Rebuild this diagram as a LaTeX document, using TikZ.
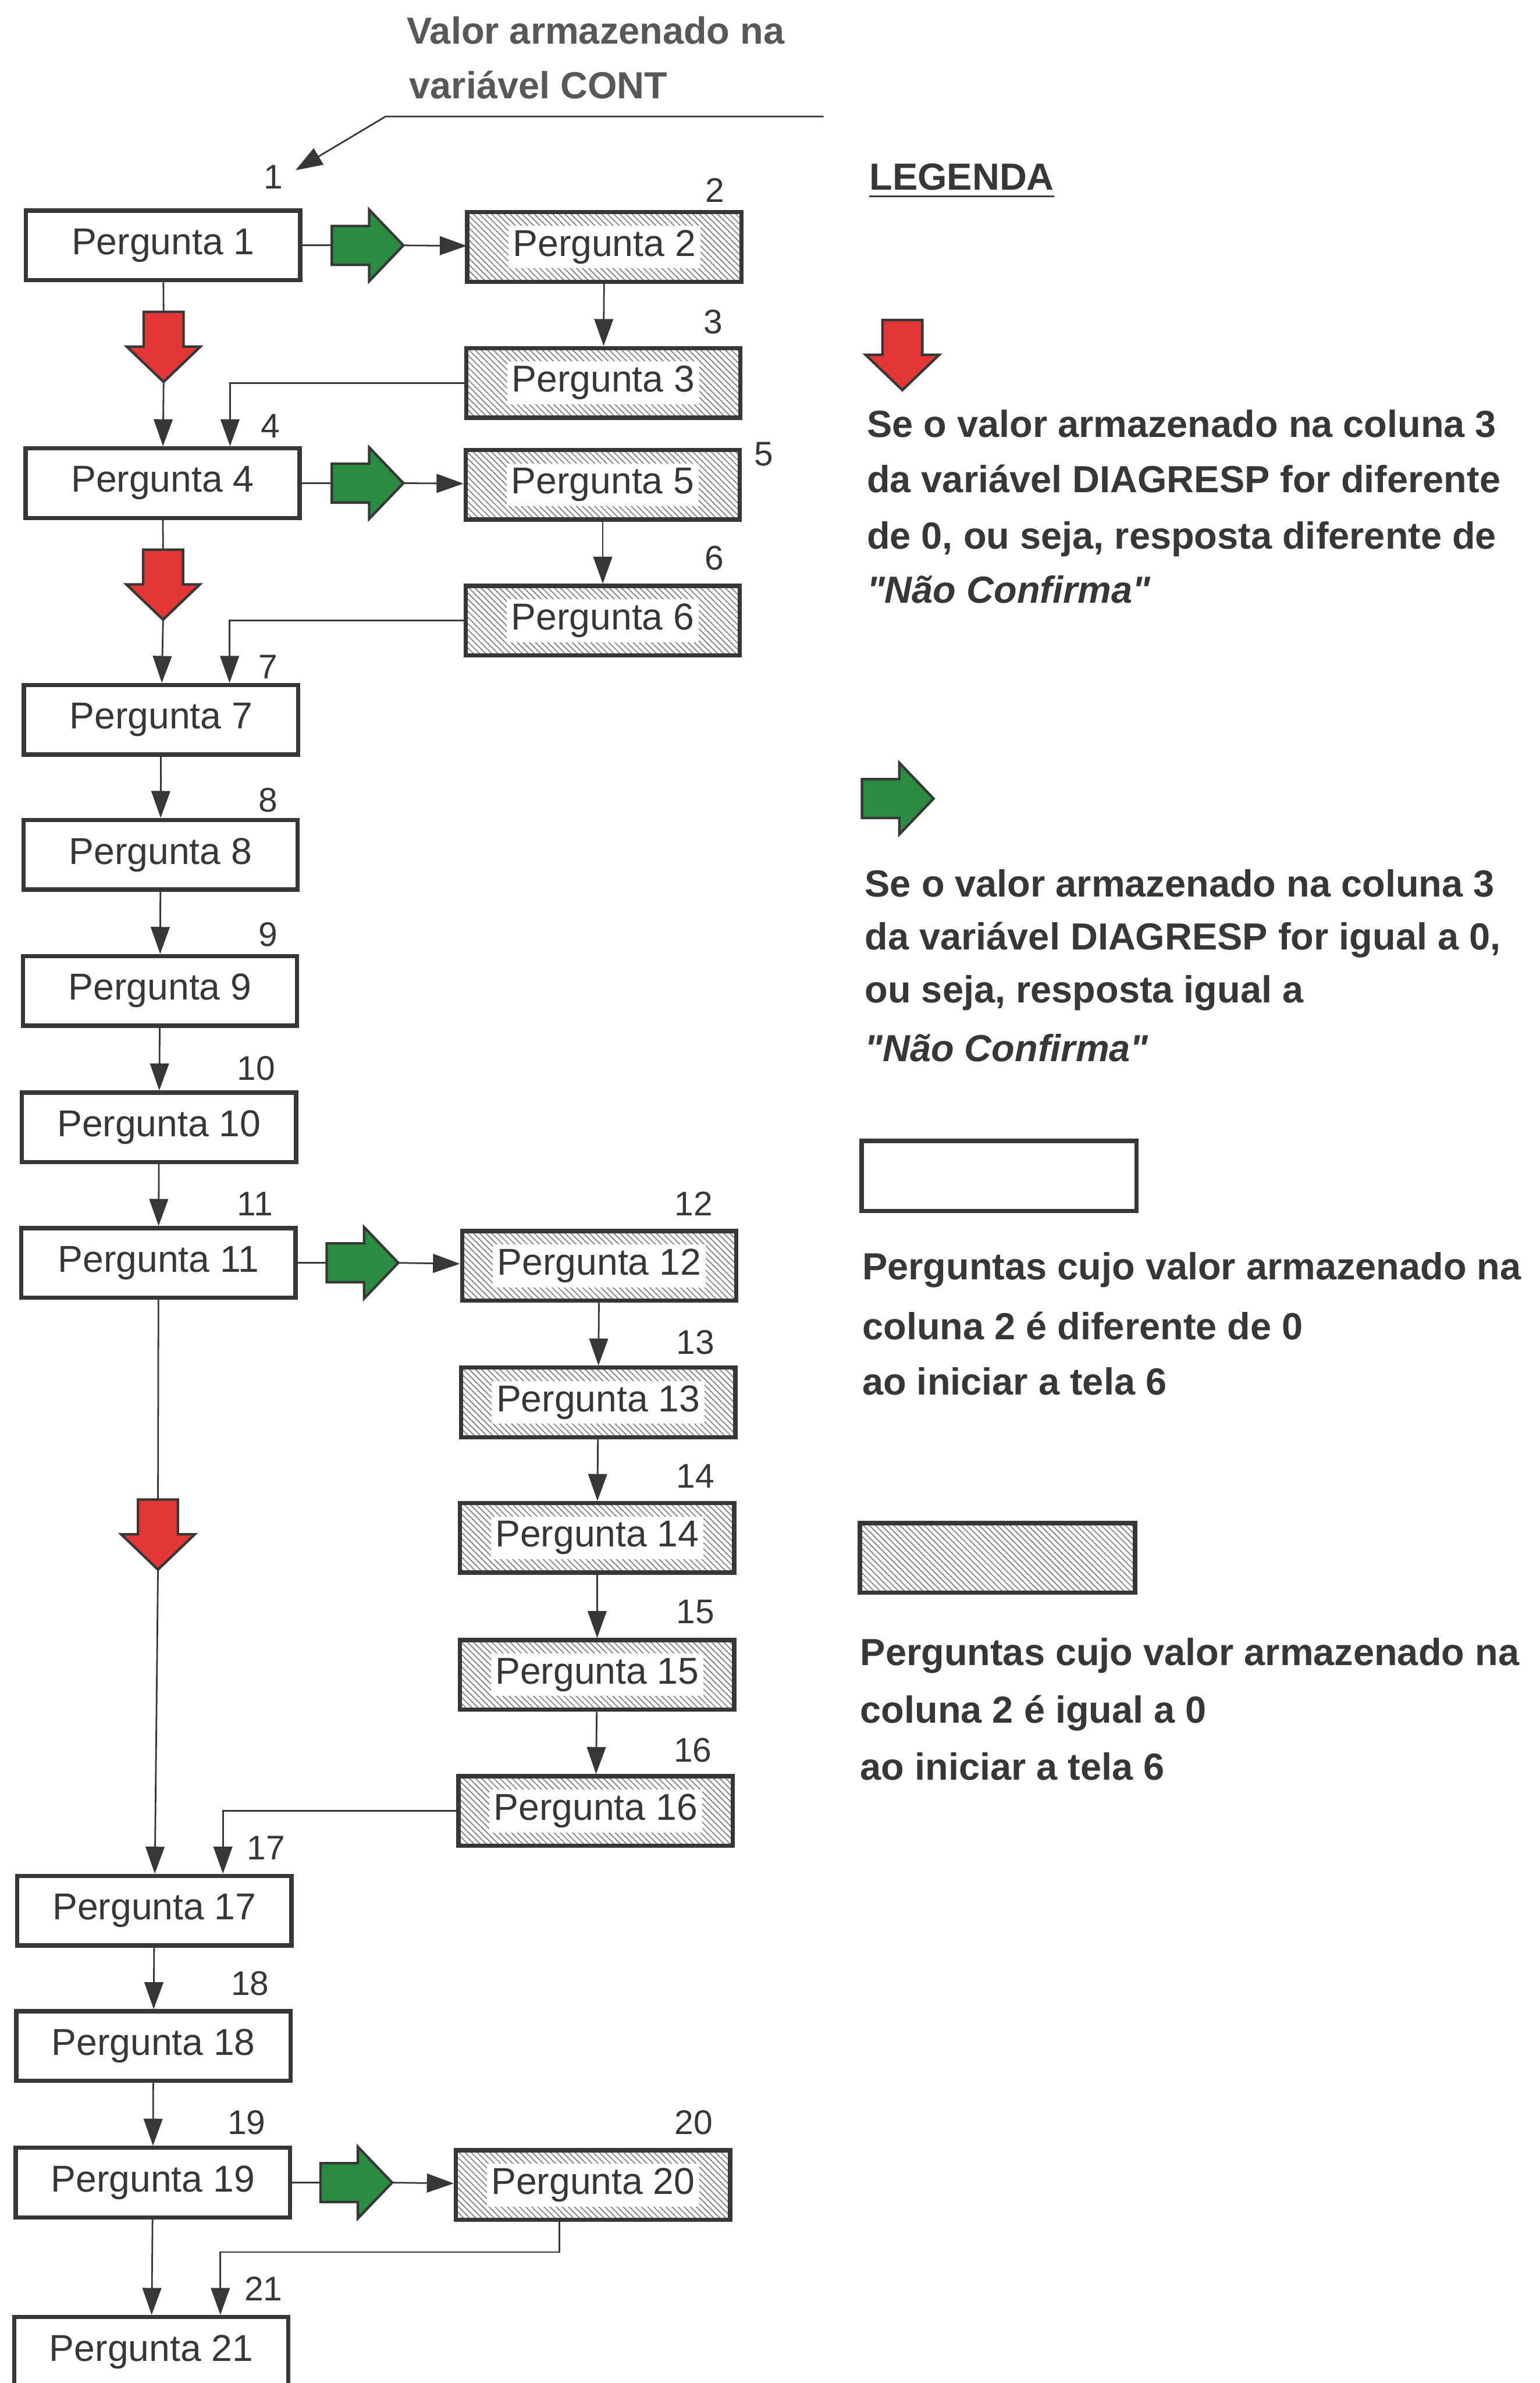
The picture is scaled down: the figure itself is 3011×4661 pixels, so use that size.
\documentclass[tikz,border=0pt]{standalone}
\usepackage{fontspec}
\setmainfont{Liberation Sans}
\usetikzlibrary{arrows.meta,patterns.meta}

\definecolor{ink}{RGB}{55,55,55}
\definecolor{softink}{RGB}{88,88,88}
\definecolor{arrowred}{RGB}{226,55,52}
\definecolor{arrowgreen}{RGB}{42,140,64}
\definecolor{hatch}{RGB}{125,125,125}

\newcommand\boxfont{\fontsize{20.8pt}{25pt}\selectfont}
\newcommand\numfont{\fontsize{19pt}{23pt}\selectfont}
\newcommand\legfont{\fontsize{21pt}{25pt}\selectfont\bfseries}
\newcommand\onwhite[1]{{\setlength{\fboxsep}{2.5pt}\colorbox{white}{#1}}}

\begin{document}
\begin{tikzpicture}[x=0.01cm, y=-0.01cm,
  qbox/.style={draw=ink, line width=2.4pt, fill=white, minimum width=5.36cm,
    minimum height=1.36cm, inner sep=0pt, text=ink, font=\boxfont},
  hbox/.style={qbox, pattern={Lines[angle=-45,distance=2.4pt,line width=0.55pt]},
    pattern color=hatch},
  conn/.style={draw=ink, line width=0.9pt},
  flow/.style={conn, -{Triangle[length=15pt,width=10.5pt]}},
  num/.style={anchor=base east, inner sep=0pt, text=ink, font=\numfont},
  legtext/.style={anchor=base west, inner sep=0pt, text=ink, font=\legfont},
  headtext/.style={anchor=base west, inner sep=0pt, text=softink, font=\legfont},
  blockline/.style={draw=ink, line width=1.4pt, line join=miter},
  downblock/.pic={\path[blockline, fill=arrowred] (-39,0) -- (39,0) -- (39,68)
    -- (72,68) -- (0,137) -- (-72,68) -- (-39,68) -- cycle;},
  rightblock/.pic={\path[blockline, fill=arrowgreen] (0,-38) -- (73,-38) -- (73,-70)
    -- (140,0) -- (73,70) -- (73,38) -- (0,38) -- cycle;}
]
\useasboundingbox (0,0) rectangle (3011,4661);
\fill[white] (0,0) rectangle (3011,4661);

% ---------- heading ----------
\node[headtext] (cont1) at (795,86) {Valor armazenado na};
\node[headtext] (cont2) at (800,193) {variável CONT};
\coordinate (contA) at (1611,228);
\coordinate (contB) at (754,228);
\coordinate (contC) at (578,333);
\draw[flow] (contA) -- (contB) -- (contC);

% ---------- question boxes ----------
\node[qbox] (p1)  at (319,480)  {Pergunta 1};
\node[hbox] (p2)  at (1182,483) {\onwhite{Pergunta 2}};
\node[hbox] (p3)  at (1180,749) {\onwhite{Pergunta 3}};
\node[qbox] (p4)  at (318,945)  {Pergunta 4};
\node[hbox] (p5)  at (1179,948) {\onwhite{Pergunta 5}};
\node[hbox] (p6)  at (1179,1214) {\onwhite{Pergunta 6}};
\node[qbox] (p7)  at (315,1408) {Pergunta 7};
\node[qbox] (p8)  at (314,1672) {Pergunta 8};
\node[qbox] (p9)  at (313,1938) {Pergunta 9};
\node[qbox] (p10) at (311,2205) {Pergunta 10};
\node[qbox] (p11) at (310,2470) {Pergunta 11};
\node[hbox] (p12) at (1172,2476) {\onwhite{Pergunta 12}};
\node[hbox] (p13) at (1170,2743) {\onwhite{Pergunta 13}};
\node[hbox] (p14) at (1168,3008) {\onwhite{Pergunta 14}};
\node[hbox] (p15) at (1168,3276) {\onwhite{Pergunta 15}};
\node[hbox] (p16) at (1165,3542) {\onwhite{Pergunta 16}};
\node[qbox] (p17) at (302,3737) {Pergunta 17};
\node[qbox] (p18) at (300,4002) {Pergunta 18};
\node[qbox] (p19) at (299,4269) {Pergunta 19};
\node[hbox] (p20) at (1160,4274) {\onwhite{Pergunta 20}};
\node[qbox] (p21) at (296,4600) {Pergunta 21};

% ---------- sequence numbers ----------
\node[num] (n1)  at (554,369)  {1};
\node[num] (n2)  at (1418,396) {2};
\node[num] (n3)  at (1414,653) {3};
\node[num] (n4)  at (548,856)  {4};
\node[num] (n5)  at (1513,911) {5};
\node[num] (n6)  at (1417,1115) {6};
\node[num] (n7)  at (544,1327) {7};
\node[num] (n8)  at (544,1588) {8};
\node[num] (n9)  at (544,1851) {9};
\node[num] (n10) at (539,2112) {10};
\node[num] (n11) at (534,2378) {11};
\node[num] (n12) at (1395,2378) {12};
\node[num] (n13) at (1398,2649) {13};
\node[num] (n14) at (1398,2910) {14};
\node[num] (n15) at (1398,3175) {15};
\node[num] (n16) at (1393,3446) {16};
\node[num] (n17) at (558,3637) {17};
\node[num] (n18) at (527,3903) {18};
\node[num] (n19) at (520,4175) {19};
\node[num] (n20) at (1395,4175) {20};
\node[num] (n21) at (553,4500) {21};

% ---------- connectors ----------
% column 1, first block
\coordinate (ra1) at (320,610);  \coordinate (ra1t) at (320,747);
\draw[conn] (p1) -- (ra1);
\draw[flow] (ra1t) -- (p4);
\coordinate (ga1) at (649,480);  \coordinate (ga1t) at (789,480);
\draw[conn] (p1) -- (ga1);
\draw[flow] (ga1t) -- (p2);
\draw[flow] (p2) -- (p3);
\coordinate (k3) at (450,749);
\draw[flow] (p3) -- (k3) -- (k3 |- p4.north);

% second block
\coordinate (ga2) at (649,945);  \coordinate (ga2t) at (789,945);
\draw[conn] (p4) -- (ga2);
\draw[flow] (ga2t) -- (p5);
\draw[flow] (p5) -- (p6);
\coordinate (k6) at (449,1214);
\draw[flow] (p6) -- (k6) -- (k6 |- p7.north);
\coordinate (ra2) at (319,1075); \coordinate (ra2t) at (319,1212);
\draw[conn] (p4) -- (ra2);
\draw[flow] (ra2t) -- (p7);

% straight run
\draw[flow] (p7) -- (p8);
\draw[flow] (p8) -- (p9);
\draw[flow] (p9) -- (p10);
\draw[flow] (p10) -- (p11);

% third block
\coordinate (ga3) at (639,2470); \coordinate (ga3t) at (777,2470);
\draw[conn] (p11) -- (ga3);
\draw[flow] (ga3t) -- (p12);
\draw[flow] (p12) -- (p13);
\draw[flow] (p13) -- (p14);
\draw[flow] (p14) -- (p15);
\draw[flow] (p15) -- (p16);
\coordinate (k16) at (436,3542);
\draw[flow] (p16) -- (k16) -- (k16 |- p17.north);
\coordinate (ra3) at (309,2933); \coordinate (ra3t) at (309,3070);
\draw[conn] (p11) -- (ra3);
\draw[flow] (ra3t) -- (p17);

\draw[flow] (p17) -- (p18);
\draw[flow] (p18) -- (p19);

% last block
\coordinate (ga4) at (627,4269); \coordinate (ga4t) at (766,4269);
\draw[conn] (p19) -- (ga4);
\draw[flow] (ga4t) -- (p20);
\draw[flow] (p19) -- (p21);
\coordinate (k20a) at (1094,4405); \coordinate (k20b) at (431,4405);
\draw[flow] (k20a |- p20.south) -- (k20a) -- (k20b) -- (k20b |- p21.north);

% block arrows on top of the connectors
\pic at (ra1) {downblock};
\pic at (ra2) {downblock};
\pic at (ra3) {downblock};
\pic at (ga1) {rightblock};
\pic at (ga2) {rightblock};
\pic at (ga3) {rightblock};
\pic at (ga4) {rightblock};

% ---------- legend ----------
\node[legtext] (legenda) at (1700,371) {LEGENDA};
\draw[ink, line width=1.1pt] ([yshift=-0.13cm]legenda.base west) -- ([yshift=-0.13cm]legenda.base east);

\pic at (1765,626) {downblock};
\node[legtext] (r1) at (1695,855)  {Se o valor armazenado na coluna 3};
\node[legtext] (r2) at (1695,963)  {da variável DIAGRESP for diferente};
\node[legtext] (r3) at (1695,1074) {de 0, ou seja, resposta diferente de};
\node[legtext] (r4) at (1695,1180) {\itshape \textquotedbl Não Confirma\textquotedbl};

\pic at (1686,1562) {rightblock};
\node[legtext] (g1) at (1691,1754) {Se o valor armazenado na coluna 3};
\node[legtext] (g2) at (1691,1858) {da variável DIAGRESP for igual a 0,};
\node[legtext] (g3) at (1691,1961) {ou seja, resposta igual a};
\node[legtext] (g4) at (1691,2076) {\itshape \textquotedbl Não Confirma\textquotedbl};

\node[qbox, minimum width=5.37cm, minimum height=1.37cm] (legwhite) at (1954,2300) {};
\node[legtext] (w1) at (1686,2503) {Perguntas cujo valor armazenado na};
\node[legtext] (w2) at (1686,2620) {coluna 2 é diferente de 0};
\node[legtext] (w3) at (1686,2728) {ao iniciar a tela 6};

\node[hbox, minimum width=5.38cm, minimum height=1.36cm] (leghatch) at (1951,3047) {};
\node[legtext] (h1) at (1682,3257) {Perguntas cujo valor armazenado na};
\node[legtext] (h2) at (1682,3370) {coluna 2 é igual a 0};
\node[legtext] (h3) at (1682,3482) {ao iniciar a tela 6};
\end{tikzpicture}
\end{document}
